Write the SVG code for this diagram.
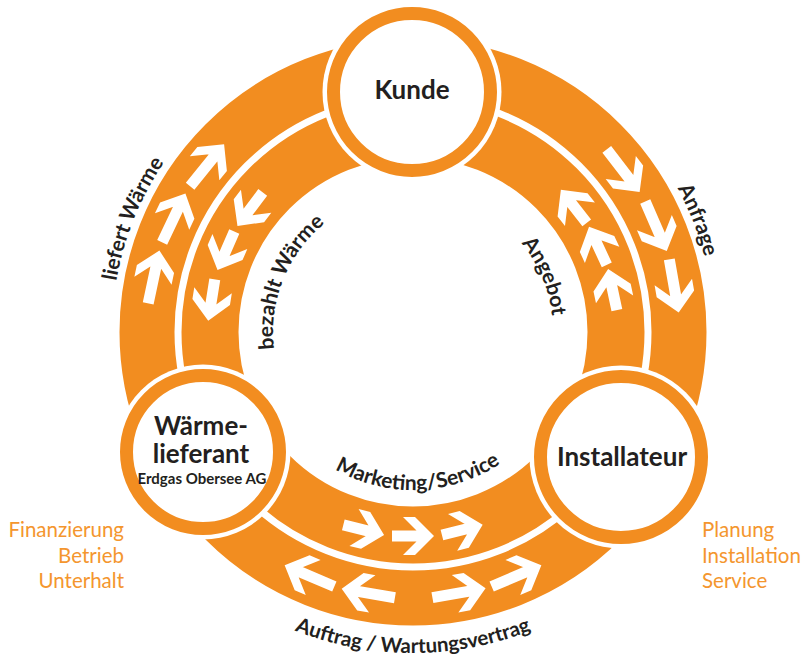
<svg xmlns="http://www.w3.org/2000/svg" xmlns:xlink="http://www.w3.org/1999/xlink" width="804" height="662" viewBox="0 0 804 662">
<style>
.band{fill:none;stroke:#F28D20}
.halo{fill:#fff}
.ring{fill:#fff;stroke:#F28D20;stroke-width:13}
.arw{fill:#fff}
.t{font-family:Lato,"Open Sans","Liberation Sans",sans-serif;font-weight:700;fill:#231F20}
.nt{font-size:26px;text-anchor:middle}
.sub{font-size:15px;text-anchor:middle}
.al{font-size:21px}
.side{font-family:Lato,"Open Sans","Liberation Sans",sans-serif;font-size:20.5px;fill:#F4962E}
</style>
<defs>
<path id="arO" class="arw" d="M-27,-5.5 V5.5 H18 V-5.5 Z M27,0 L8,-19 L-4,-19 L15,0 L-4,19 L8,19 Z"/>
<path id="arI" class="arw" d="M-21,-5.5 V5.5 H12 V-5.5 Z M21,0 L2,-19 L-10,-19 L9,0 L-10,19 L2,19 Z"/>
<path id="pLief" d="M175.8,517.3 A301,301 0 0 1 371.1,33.9"/>
<path id="pAnf" d="M457.5,34.3 A301,301 0 0 1 648.6,519.4"/>
<path id="pAng" d="M430.1,193.0 A140,140 0 0 1 524.8,416.3"/>
<path id="pBez" d="M302.7,418.2 A140,140 0 0 1 393.5,193.4"/>
<path id="pMkt" d="M279.0,415.7 A158,158 0 0 0 552.5,406.2"/>
<path id="pAuf" d="M135,492.5 A321,321 0 0 0 691,492.5"/>
</defs>
<rect width="804" height="662" fill="#fff"/>
<g id="connectors">
<circle class="band" cx="413" cy="332" r="266" stroke-width="55"/>
<circle class="band" cx="413" cy="332" r="203" stroke-width="57"/>
<use xlink:href="#arO" transform="translate(153.8,276.9) rotate(282)"/>
<use xlink:href="#arO" transform="translate(173.8,217.9) rotate(295.5)"/>
<use xlink:href="#arO" transform="translate(207.1,165.2) rotate(309)"/>
<use xlink:href="#arI" transform="translate(250.1,209.2) rotate(127)"/>
<use xlink:href="#arI" transform="translate(225.9,250.7) rotate(113.5)"/>
<use xlink:href="#arI" transform="translate(211.5,300.1) rotate(99)"/>
<use xlink:href="#arO" transform="translate(623.2,170.7) rotate(52.5)"/>
<use xlink:href="#arO" transform="translate(656.0,226.3) rotate(66.5)"/>
<use xlink:href="#arO" transform="translate(674.0,286.0) rotate(80)"/>
<use xlink:href="#arI" transform="translate(573.8,206.4) rotate(-128)"/>
<use xlink:href="#arI" transform="translate(597.9,245.8) rotate(-115)"/>
<use xlink:href="#arI" transform="translate(612.5,289.6) rotate(-102)"/>
<use xlink:href="#arI" transform="translate(363.7,529.9) rotate(14)"/>
<use xlink:href="#arI" transform="translate(413,536) rotate(0)"/>
<use xlink:href="#arI" transform="translate(462.3,529.9) rotate(-14)"/>
<use xlink:href="#arO" transform="translate(309.5,575.9) rotate(203)"/>
<use xlink:href="#arO" transform="translate(368.3,593.2) rotate(189.7)"/>
<use xlink:href="#arO" transform="translate(459.0,593.0) rotate(-10)"/>
<use xlink:href="#arO" transform="translate(516.5,575.9) rotate(-23)"/>
</g>
<g id="connector-labels" class="t al">
<text><textPath xlink:href="#pLief" startOffset="50%" text-anchor="middle">liefert Wärme</textPath></text>
<text><textPath xlink:href="#pAnf" startOffset="50%" text-anchor="middle">Anfrage</textPath></text>
<text><textPath xlink:href="#pAng" startOffset="50%" text-anchor="middle">Angebot</textPath></text>
<text><textPath xlink:href="#pBez" startOffset="50%" text-anchor="middle">bezahlt Wärme</textPath></text>
<text><textPath xlink:href="#pMkt" startOffset="50%" text-anchor="middle">Marketing/Service</textPath></text>
<text style="font-size:20.5px"><textPath xlink:href="#pAuf" startOffset="50%" text-anchor="middle">Auftrag / Wartungsvertrag</textPath></text>
</g>
<g id="node-kunde">
<circle class="halo" cx="412" cy="92" r="89.5"/>
<circle class="ring" cx="412" cy="92" r="78.5"/>
<text class="t nt" x="412" y="99">Kunde</text>
</g>
<g id="node-installateur">
<circle class="halo" cx="621" cy="457" r="91.5"/>
<circle class="ring" cx="621" cy="457" r="80.5"/>
<text class="t nt" x="622" y="466">Installateur</text>
</g>
<g id="node-waermelieferant">
<circle class="halo" cx="203" cy="452" r="87.5"/>
<circle class="ring" cx="203" cy="452" r="76.5"/>
<text class="t nt"><tspan x="201" y="435">Wärme-</tspan><tspan x="201" y="463">lieferant</tspan></text>
<text class="t sub" x="202" y="484">Erdgas Obersee AG</text>
</g>
<g id="notes-left" class="side" text-anchor="end">
<text x="124" y="537">Finanzierung</text>
<text x="124" y="563">Betrieb</text>
<text x="124" y="588">Unterhalt</text>
</g>
<g id="notes-right" class="side">
<text x="702" y="537">Planung</text>
<text x="702" y="563">Installation</text>
<text x="702" y="588">Service</text>
</g>
</svg>
